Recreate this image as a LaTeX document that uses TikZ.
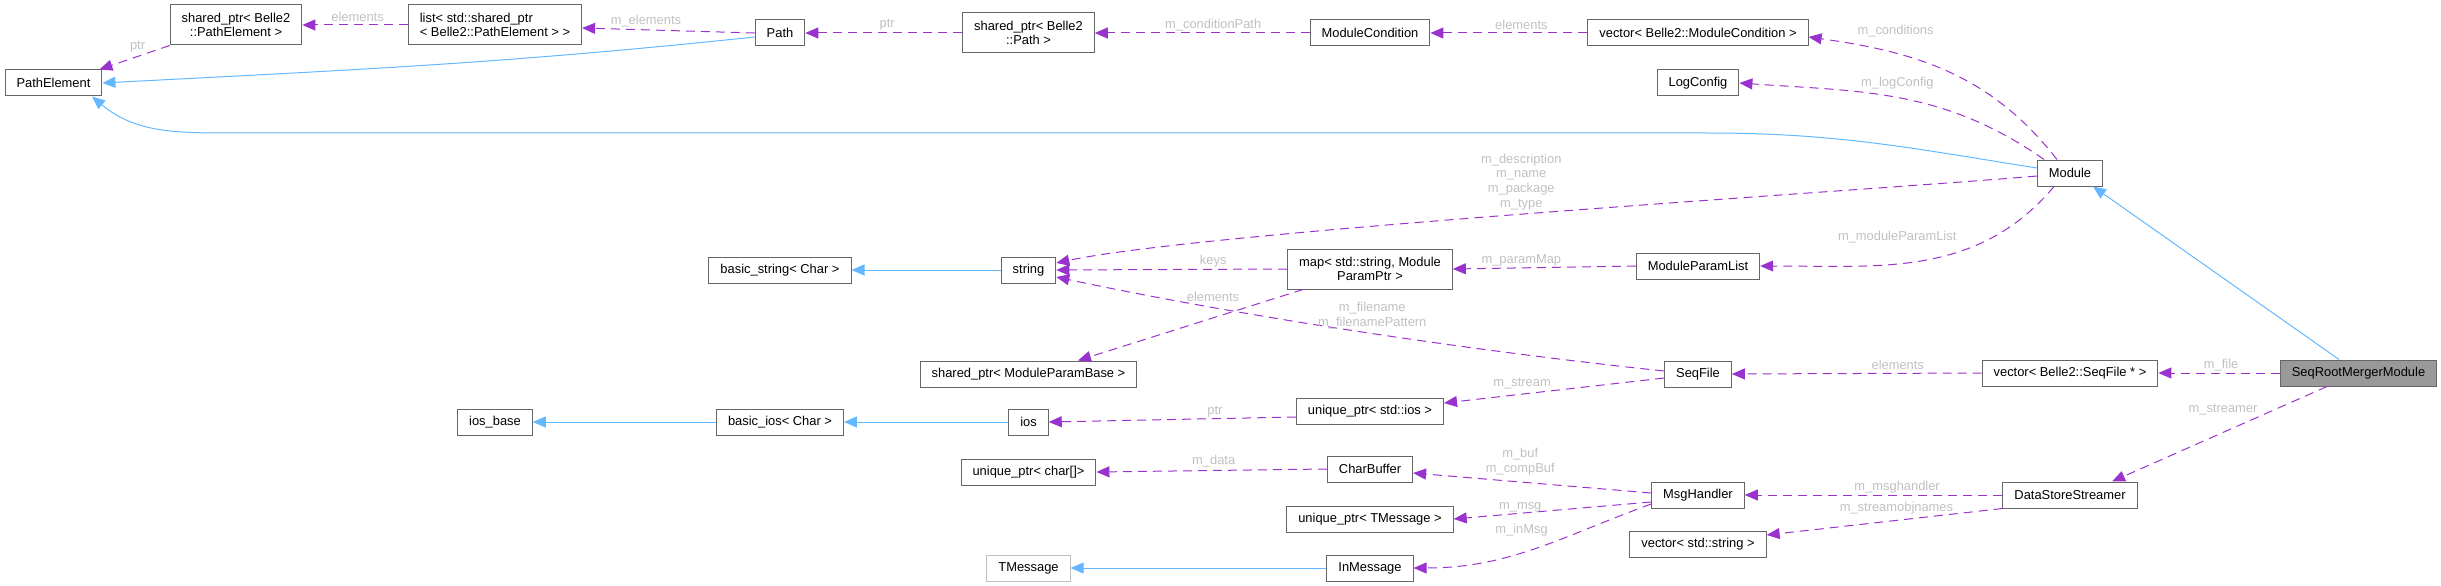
\documentclass[tikz,border=0pt]{standalone}
\usepackage{fontspec}
\setmainfont{Liberation Sans}
\usepackage{tikz}
\usetikzlibrary{positioning, arrows.meta}
\definecolor{inheritblue}{HTML}{63B8FF}
\definecolor{usagepurple}{HTML}{9A32CD}
\definecolor{boxgray}{HTML}{666666}
\definecolor{labelgray}{HTML}{C0C0C0}
\definecolor{rootgray}{HTML}{999999}
\definecolor{extgray}{HTML}{BFBFBF}
\tikzstyle{cls} = [rectangle, draw=boxgray, line width=1pt, fill=white, minimum height=26pt, inner xsep=11.5pt, inner ysep=6.5pt, align=center, font=\fontsize{12.9}{14.7}\selectfont]
\tikzstyle{cls_2} = [cls, minimum height=40pt]
\tikzstyle{inherit} = [inheritblue, line width=1pt, ->, >={Triangle[length=13pt,width=11pt]}]
\tikzstyle{usage} = [usagepurple, line width=1pt, dash pattern=on 9pt off 6pt, ->, >={Triangle[length=13pt,width=11pt]}]
\tikzstyle{lbl} = [text=labelgray, inner sep=0pt, align=center, font=\fontsize{12.9}{14.7}\selectfont]

\begin{document}
\begin{tikzpicture}[x=1pt, y=1pt, on grid]
    \useasboundingbox (-53.5,83) rectangle (2387.5,-503);
    \node (pe) [cls] {PathElement};
    \node (spPE) [cls_2, above right=58pt and 182.5pt of pe] {shared\_ptr< Belle2\\::PathElement >};
    \node (lst) [cls_2, align=left, right=259pt of spPE] {list< std::shared\_ptr\\< Belle2::PathElement > >};
    \node (iosb) [cls, below=397pt of lst] {ios\_base};
    \node (path) [cls, below right=8pt and 285pt of lst] {Path};
    \node (bstr) [cls, below=237pt of path] {basic\_string< Char >};
    \node (bios) [cls, below=152pt of bstr] {basic\_ios< Char >};
    \node (spPath) [cls_2, right=248.5pt of path] {shared\_ptr< Belle2\\::Path >};
    \node (str) [cls, below=237pt of spPath] {string};
    \node (spmpb) [cls, below=104pt of str] {shared\_ptr< ModuleParamBase >};
    \node (ios) [cls, below=48pt of spmpb] {ios};
    \node (upchar) [cls, below=50pt of ios] {unique\_ptr< char[]>};
    \node (tm) [cls, draw=extgray, below=96pt of upchar] {TMessage};
    \node (mc) [cls, right=341.5pt of spPath] {ModuleCondition};
    \node (map) [cls_2, below=236pt of mc] {map< std::string, Module\\ParamPtr >};
    \node (upios) [cls, below=142pt of map] {unique\_ptr< std::ios >};
    \node (cb) [cls, below=58pt of upios] {CharBuffer};
    \node (uptm) [cls, below=50pt of cb] {unique\_ptr< TMessage >};
    \node (im) [cls, below=49pt of uptm] {InMessage};
    \node (vmc) [cls, right=328pt of mc] {vector< Belle2::ModuleCondition >};
    \node (lc) [cls, below=50pt of vmc] {LogConfig};
    \node (mpl) [cls, below=183pt of lc] {ModuleParamList};
    \node (sf) [cls, below=108pt of mpl] {SeqFile};
    \node (mh) [cls, below=121pt of sf] {MsgHandler};
    \node (vstr) [cls, below=49pt of mh] {vector< std::string >};
    \node (mod) [cls, below right=140pt and 372pt of vmc] {Module};
    \node (vsf) [cls, below=200pt of mod] {vector< Belle2::SeqFile * >};
    \node (dss) [cls, below=122pt of vsf] {DataStoreStreamer};
    \node (srmm) [cls, fill=rootgray, right=288.5pt of vsf] {SeqRootMergerModule};

    \draw [inherit] ([yshift=-4]path.west) to[out=186, in=3] (pe.east);
    \draw [inherit] ([yshift=5]mod.west) to[out=171, in=0] (1653.5,-50) -- (176.5,-50) to[out=180, in=-40] ([xshift=38.5]pe.south);
    \draw [inherit] (str.west) -- (bstr.east);
    \draw [inherit] (ios.west) -- (bios.east);
    \draw [inherit] (bios.west) -- (iosb.east);
    \draw [inherit] (im.west) -- (tm.east);
    \draw [inherit] ([xshift=-19.5]srmm.north) -- ([xshift=23]mod.south);

    \draw [usage] (spPE.south west) -- node[lbl, midway, xshift=3, yshift=10.5] (lPtrPE) {ptr} ([xshift=-3]pe.north east);
    \draw [usage] (lst.west) -- node[lbl, midway, xshift=2.5, yshift=8] (lElemPE) {elements} (spPE.east);
    \draw [usage] (path.west) -- node[lbl, midway, xshift=-22.5, yshift=9.5] (lElements) {m\_elements} ([yshift=-3]lst.east);
    \draw [usage] (spPath.west) -- node[lbl, midway, xshift=3.5, yshift=8] (lPtrPath) {ptr} (path.east);
    \draw [usage] (mc.west) -- node[lbl, midway, xshift=11, yshift=8] (lCondPath) {m\_conditionPath} (spPath.east);
    \draw [usage] (vmc.west) -- node[lbl, midway, xshift=12.5, yshift=8] (lElemMC) {elements} (mc.east);
    \draw [usage] ([xshift=-13]mod.north) to[out=128, in=-8] node[lbl, at end, xshift=87, yshift=6] (lConditions) {m\_conditions} ([yshift=-4]vmc.east);
    \draw [usage] ([xshift=-26]mod.north) to[out=145, in=-4] node[lbl, at end, xshift=158, yshift=0] (lLogConfig) {m\_logConfig} (lc.east);
    \draw [usage] ([yshift=-3]mod.west) to[out=185, in=12, looseness=0.4] node[lbl, at end, xshift=465, yshift=81] (lDescr) {m\_description\\m\_name\\m\_package\\m\_type} ([yshift=7]str.east);
    \draw [usage] (map.west) -- node[lbl, midway, xshift=41.5, yshift=8.5] (lKeys) {keys} (str.east);
    \draw [usage] ([xshift=-67]map.south) -- node[lbl, at start, xshift=-90, yshift=-7] (lElemMap) {elements} ([xshift=49.5]spmpb.north);
    \draw [usage] (mpl.west) -- node[lbl, midway, xshift=-23, yshift=7.5] (lParamMap) {m\_paramMap} (map.east);
    \draw [usage] ([xshift=-16]mod.south) to[out=-130, in=0] node[lbl, at end, xshift=137, yshift=29] (lParamList) {m\_moduleParamList} (mpl.east);
    \draw [usage] ([yshift=3]sf.west) to[out=174, in=-12, looseness=0.8] node[lbl, at end, xshift=316, yshift=-38.5] (lFilename) {m\_filename\\m\_filenamePattern} ([yshift=-7]str.east);
    \draw [usage] ([yshift=-4]sf.west) -- node[lbl, midway, xshift=-32, yshift=7] (lStream) {m\_stream} ([yshift=8]upios.east);
    \draw [usage] (vsf.west) -- node[lbl, midway, xshift=41, yshift=8.5] (lElemSF) {elements} (sf.east);
    \draw [usage] (srmm.west) -- node[lbl, midway, xshift=2, yshift=8] (lFile) {m\_file} (vsf.east);
    \draw [usage] ([xshift=-31.5]srmm.south) -- node[lbl, at start, xshift=-104, yshift=-23] (lStreamer) {m\_streamer} ([xshift=42]dss.north);
    \draw [usage] ([yshift=-6]upios.west) -- node[lbl, midway, xshift=42.5, yshift=8] (lPtrIos) {ptr} (ios.east);
    \draw [usage] (cb.west) -- node[lbl, midway, xshift=2, yshift=9.5] (lData) {m\_data} (upchar.east);
    \draw [usage] ([yshift=2]mh.west) -- node[lbl, at start, xshift=-131, yshift=31] (lBuf) {m\_buf\\m\_compBuf} ([yshift=-4]cb.east);
    \draw [usage] ([yshift=-7]mh.west) -- node[lbl, at start, xshift=-131, yshift=-5.5] (lMsg) {m\_msg} (uptm.east);
    \draw [usage] ([yshift=-9]mh.west) to[out=200, in=0] node[lbl, at end, xshift=108, yshift=38] (lInMsg) {m\_inMsg} (im.east);
    \draw [usage] (dss.west) -- node[lbl, midway, xshift=23.5, yshift=7.5] (lHandler) {m\_msghandler} (mh.east);
    \draw [usage] (dss.south west) -- node[lbl, at start, xshift=-106, yshift=0] (lObjNames) {m\_streamobjnames} ([yshift=9]vstr.east);
\end{tikzpicture}
\end{document}
